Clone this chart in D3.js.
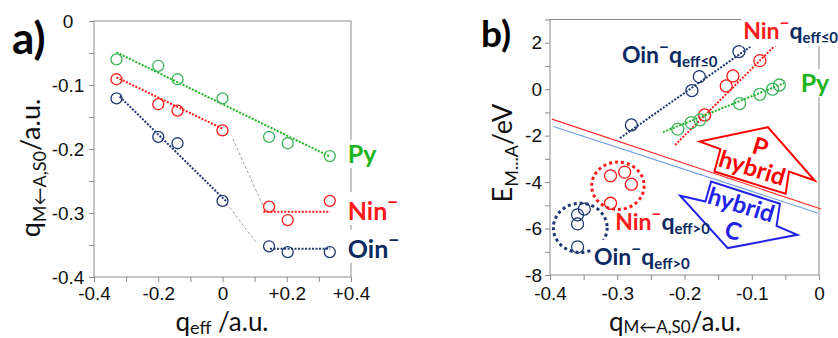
<!DOCTYPE html>
<html lang="en">
<head>
<meta charset="UTF-8">
<title>Charge transfer vs interaction energy</title>
<script src="https://d3js.org/d3.v7.min.js"></script>
<style>
    body { margin: 0; background: #fff; }
    svg { font-family: Lato, "Open Sans", "DejaVu Sans", sans-serif; }
    .tick text { font-size: 19px; fill: #111; }
    .tick line { stroke: #8c8c8c; }
</style>
</head>
<body>
<svg id="chart" width="838" height="338"></svg>
<script>
// ---- panel a) : q_eff  vs  q(M<-A,S0)
const qEff = [-0.33, -0.2, -0.14, 0, 0.145, 0.203, 0.334];
const qPy  = [-0.060, -0.070, -0.091, -0.121, -0.181, -0.191, -0.211];
const qNin = [-0.091, -0.130, -0.140, -0.171, -0.290, -0.311, -0.281];
const qOin = [-0.121, -0.181, -0.191, -0.281, -0.352, -0.361, -0.361];

// fitted (dotted) lines and gray guides, panel a
const fitPyA   = [[-0.33, -0.049], [0.335, -0.212]];
const fitNinA1 = [[-0.33, -0.088], [0.003, -0.169]];
const fitNinA2 = [[0.127, -0.298], [0.335, -0.298]];
const fitOinA1 = [[-0.32, -0.118], [0.012, -0.282]];
const fitOinA2 = [[0.148, -0.356], [0.335, -0.356]];
const guidesA  = [[[0.032, -0.184], [0.127, -0.290]], [[0.013, -0.285], [0.106, -0.347]]];

// ---- panel b) : q(M<-A,S0)  vs  E(M...A)
const pyQ    = [-0.210, -0.190, -0.177, -0.118, -0.088, -0.069, -0.059];
const pyE    = [-1.72, -1.44, -1.32, -0.62, -0.22, 0.00, 0.18];
const ninLoQ = [-0.170, -0.138, -0.128, -0.088];
const ninLoE = [-1.11, 0.14, 0.57, 1.23];
const oinLoQ = [-0.279, -0.189, -0.178, -0.119];
const oinLoE = [-1.54, -0.06, 0.54, 1.62];
const ninHiQ = [-0.310, -0.289, -0.279, -0.310];
const ninHiE = [-3.73, -3.57, -4.09, -4.91];
const oinHiQ = [-0.349, -0.359, -0.359, -0.359];
const oinHiE = [-5.16, -5.41, -5.80, -6.79];

const fitPyB  = [[-0.232, -1.85], [-0.052, 0.26]];
const fitNinB = [[-0.214, -2.40], [-0.057, 2.12]];
const fitOinB = [[-0.296, -2.11], [-0.102, 1.83]];
const sepRed  = [[-0.397, -1.29], [0.003, -5.16]];
const sepBlue = [[-0.395, -1.61], [-0.002, -5.33]];
// dotted group rings: [cx, cy, rx, ry] in data units
const ringNin = [-0.299, -4.16, 0.039, 1.02];
const ringOin = [-0.355, -5.97, 0.040, 1.06];
// block arrows (data units)
const arrowP = [[-0.1774, -2.256], [-0.1465, -2.583], [-0.1555, -3.546], [-0.0496, -4.505],
                [-0.0447, -3.546], [-0.0064, -3.933], [-0.076, -1.636]];
const arrowC = [[-0.2062, -4.591], [-0.1689, -4.836], [-0.1604, -3.976], [-0.0581, -4.935],
                [-0.0631, -5.882], [-0.0322, -6.269], [-0.1357, -6.841]];

const GREEN = "#1cb41c", GREEN_C = "#3cb55a", RED = "#ff1a1a", NAVY = "#1c3772", NAVY_T = "#0b2a62";
const AXIS = "#8c8c8c";

const svg = d3.select("#chart");

function rich(g, x, y, parts, bg) {
    const holder = g.append("g");
    const txt = holder.append("text").attr("x", x).attr("y", y).attr("font-weight", "bold");
    parts.forEach(p => {
        txt.append("tspan").attr("fill", p.fill).attr("font-size", p.size)
            .attr("dy", p.dy || 0).text(p.t);
    });
    if (bg) {
        const b = txt.node().getBBox();
        holder.insert("rect", "text").attr("x", b.x - 2).attr("y", b.y + 2)
            .attr("width", b.width + 4).attr("height", b.height - 2).attr("fill", "#fff");
    }
    return txt;
}

function dotted(g, pts, x, y, color) {
    g.append("path").attr("d", d3.line().x(d => x(d[0])).y(d => y(d[1]))(pts))
        .attr("fill", "none").attr("stroke", color).attr("stroke-width", 2)
        .attr("stroke-dasharray", "2,1.5");
}

function circles(g, xs, ys, x, y, color, r) {
    g.append("g").selectAll("circle").data(xs).enter().append("circle")
        .attr("cx", d => x(d)).attr("cy", (d, i) => y(ys[i])).attr("r", r)
        .attr("fill", "none").attr("stroke", color).attr("stroke-width", 1.3);
}

// ======================= panel a =======================
const xA = d3.scaleLinear().domain([-0.4, 0.4]).range([94, 351]);
const yA = d3.scaleLinear().domain([-0.4, 0]).range([277, 21]);
const gA = svg.append("g");

gA.append("rect").attr("x", 94).attr("y", 21).attr("width", 257).attr("height", 256)
    .attr("fill", "none").attr("stroke", AXIS);

gA.append("g").attr("transform", "translate(94,0)")
    .call(d3.axisLeft(yA).tickValues(d3.range(0, 9).map(i => -i * 0.05)).tickSize(5).tickSizeOuter(0)
        .tickFormat((v, i) => i % 2 ? "" : (i === 0 ? "0" : v.toFixed(1))))
    .call(a => a.select(".domain").remove())
    .call(a => a.selectAll("text").attr("text-anchor", "middle").attr("x", -26));

gA.append("g").attr("transform", "translate(0,277)")
    .call(d3.axisBottom(xA).tickValues(d3.range(-4, 5).map(i => i / 10)).tickSize(5).tickSizeOuter(0).tickPadding(5)
        .tickFormat(v => {
            const k = Math.round(v * 10);
            if (k % 2) return "";
            return k === 0 ? "0" : (k > 0 ? "+" : "") + v.toFixed(1);
        }))
    .call(a => a.select(".domain").remove());

guidesA.forEach(s => gA.append("path")
    .attr("d", d3.line().x(d => xA(d[0])).y(d => yA(d[1]))(s))
    .attr("stroke", "#a0a0a0").attr("stroke-width", 1).attr("stroke-dasharray", "3,2").attr("fill", "none"));

dotted(gA, fitPyA, xA, yA, GREEN);
dotted(gA, fitNinA1, xA, yA, RED);
dotted(gA, fitNinA2, xA, yA, RED);
dotted(gA, fitOinA1, xA, yA, NAVY);
dotted(gA, fitOinA2, xA, yA, NAVY);
circles(gA, qEff, qPy, xA, yA, GREEN_C, 5.5);
circles(gA, qEff, qNin, xA, yA, RED, 5.5);
circles(gA, qEff, qOin, xA, yA, NAVY, 5.5);

rich(gA, xA(0.39), yA(-0.222), [{t: "Py", fill: GREEN, size: 25}], true);
rich(gA, xA(0.39), yA(-0.311), [{t: "Nin", fill: RED, size: 25}, {t: "\u2212", fill: RED, size: 19, dy: -11}], true);
rich(gA, xA(0.39), yA(-0.37), [{t: "Oin", fill: NAVY_T, size: 25}, {t: "\u2212", fill: NAVY_T, size: 19, dy: -11}], true);

gA.append("text").attr("x", 12).attr("y", 54).attr("font-size", 44).attr("font-weight", "bold").text("a)");

const ylabA = gA.append("text").attr("transform", "translate(40,168) rotate(-90)")
    .attr("text-anchor", "middle").attr("font-size", 27).attr("fill", "#111");
ylabA.append("tspan").text("q");
ylabA.append("tspan").attr("font-size", 18).attr("dy", 6).text("M\u2190A,S0");
ylabA.append("tspan").attr("dy", -6).text("/a.u.");

const xlabA = gA.append("text").attr("x", 222).attr("y", 331)
    .attr("text-anchor", "middle").attr("font-size", 26).attr("fill", "#111");
xlabA.append("tspan").text("q");
xlabA.append("tspan").attr("font-size", 18).attr("dy", 3).text("eff");
xlabA.append("tspan").attr("dy", -3).text(" /a.u.");

// ======================= panel b =======================
const xB = d3.scaleLinear().domain([-0.4, 0]).range([550, 819]);
const yB = d3.scaleLinear().domain([-8, 3]).range([275, 19.5]);
const gB = svg.append("g");

gB.append("rect").attr("x", 550).attr("y", 19.5).attr("width", 269).attr("height", 255.5)
    .attr("fill", "none").attr("stroke", AXIS);

gB.append("g").attr("transform", "translate(550,0)")
    .call(d3.axisLeft(yB).tickValues(d3.range(-8, 4)).tickSize(5).tickSizeOuter(0).tickPadding(3)
        .tickFormat(v => (v % 2 || v === 3) ? "" : String(v)))
    .call(a => a.select(".domain").remove());

gB.append("g").attr("transform", "translate(0,275)")
    .call(d3.axisBottom(xB).tickValues(d3.range(-8, 1).map(i => i / 20)).tickSize(5).tickSizeOuter(0).tickPadding(7)
        .tickFormat(v => {
            const k = Math.round(v * 20);
            if (k % 2) return "";
            return k === 0 ? "0" : v.toFixed(1);
        }))
    .call(a => a.select(".domain").remove());

[[sepRed, "#ff2a2a"], [sepBlue, "#6b9be0"]].forEach(([s, c]) => gB.append("path")
    .attr("d", d3.line().x(d => xB(d[0])).y(d => yB(d[1]))(s))
    .attr("stroke", c).attr("stroke-width", 1.1).attr("fill", "none"));

[[ringNin, RED], [ringOin, NAVY]].forEach(([r, c]) => gB.append("ellipse")
    .attr("cx", xB(r[0])).attr("cy", yB(r[1]))
    .attr("rx", xB(r[2]) - xB(0)).attr("ry", yB(0) - yB(r[3]))
    .attr("fill", "none").attr("stroke", c).attr("stroke-width", 3).attr("stroke-dasharray", "3,3"));

dotted(gB, fitOinB, xB, yB, NAVY);
dotted(gB, fitNinB, xB, yB, RED);
dotted(gB, fitPyB, xB, yB, GREEN);
circles(gB, oinLoQ, oinLoE, xB, yB, NAVY, 6);
circles(gB, ninLoQ, ninLoE, xB, yB, RED, 6);
circles(gB, pyQ, pyE, xB, yB, GREEN_C, 6);
circles(gB, ninHiQ, ninHiE, xB, yB, RED, 6);
circles(gB, oinHiQ, oinHiE, xB, yB, NAVY, 6);

[[arrowP, "#ff0000"], [arrowC, "#2222e6"]].forEach(([pts, c]) => gB.append("path")
    .attr("d", d3.line().x(d => xB(d[0])).y(d => yB(d[1])).curve(d3.curveLinearClosed)(pts))
    .attr("fill", "none").attr("stroke", c).attr("stroke-width", 2).attr("stroke-linejoin", "miter"));

function rotLabel(q, e, s, c) {
    gB.append("text").attr("transform", `translate(${xB(q)},${yB(e)}) rotate(17)`)
        .attr("text-anchor", "middle").attr("dominant-baseline", "central")
        .attr("font-size", 24).attr("font-weight", "bold").attr("fill", c).text(s);
}
rotLabel(-0.0869, -2.44, "P", "#ff0000");
rotLabel(-0.0988, -3.344, "hybrid", "#ff0000");
rotLabel(-0.1152, -4.935, "hybrid", "#2222e6");
rotLabel(-0.1272, -6.054, "C", "#2222e6");

function tag(q, e, name, nameColor, sub, bg) {
    return rich(gB, xB(q), yB(e), [
        {t: name, fill: nameColor, size: 23},
        {t: "\u2212", fill: nameColor, size: 17, dy: -10},
        {t: "q", fill: NAVY_T, size: 23, dy: 10},
        {t: sub, fill: NAVY_T, size: 15, dy: 4}
    ], bg);
}
tag(-0.2931, 1.129, "Oin", NAVY_T, "eff\u22640", false);
tag(-0.1127, 2.148, "Nin", RED, "eff\u22640", true);
tag(-0.3031, -6.054, "Nin", RED, "eff>0", false);
tag(-0.3344, -7.559, "Oin", NAVY_T, "eff>0", true);
rich(gB, xB(-0.0273), yB(-0.118), [{t: "Py", fill: GREEN, size: 25}], true);

gB.append("text").attr("x", 481).attr("y", 47).attr("font-size", 37).attr("font-weight", "bold").text("b)");

const ylabB = gB.append("text").attr("transform", "translate(512,153) rotate(-90)")
    .attr("text-anchor", "middle").attr("font-size", 27).attr("fill", "#111");
ylabB.append("tspan").text("E");
ylabB.append("tspan").attr("font-size", 18).attr("dy", 6).text("M...A");
ylabB.append("tspan").attr("dy", -6).text("/eV");

const xlabB = gB.append("text").attr("x", 675).attr("y", 331)
    .attr("text-anchor", "middle").attr("font-size", 26).attr("fill", "#111");
xlabB.append("tspan").text("q");
xlabB.append("tspan").attr("font-size", 17).attr("dy", 2).text("M\u2190A,S0");
xlabB.append("tspan").attr("dy", -2).text("/a.u.");
</script>
</body>
</html>
